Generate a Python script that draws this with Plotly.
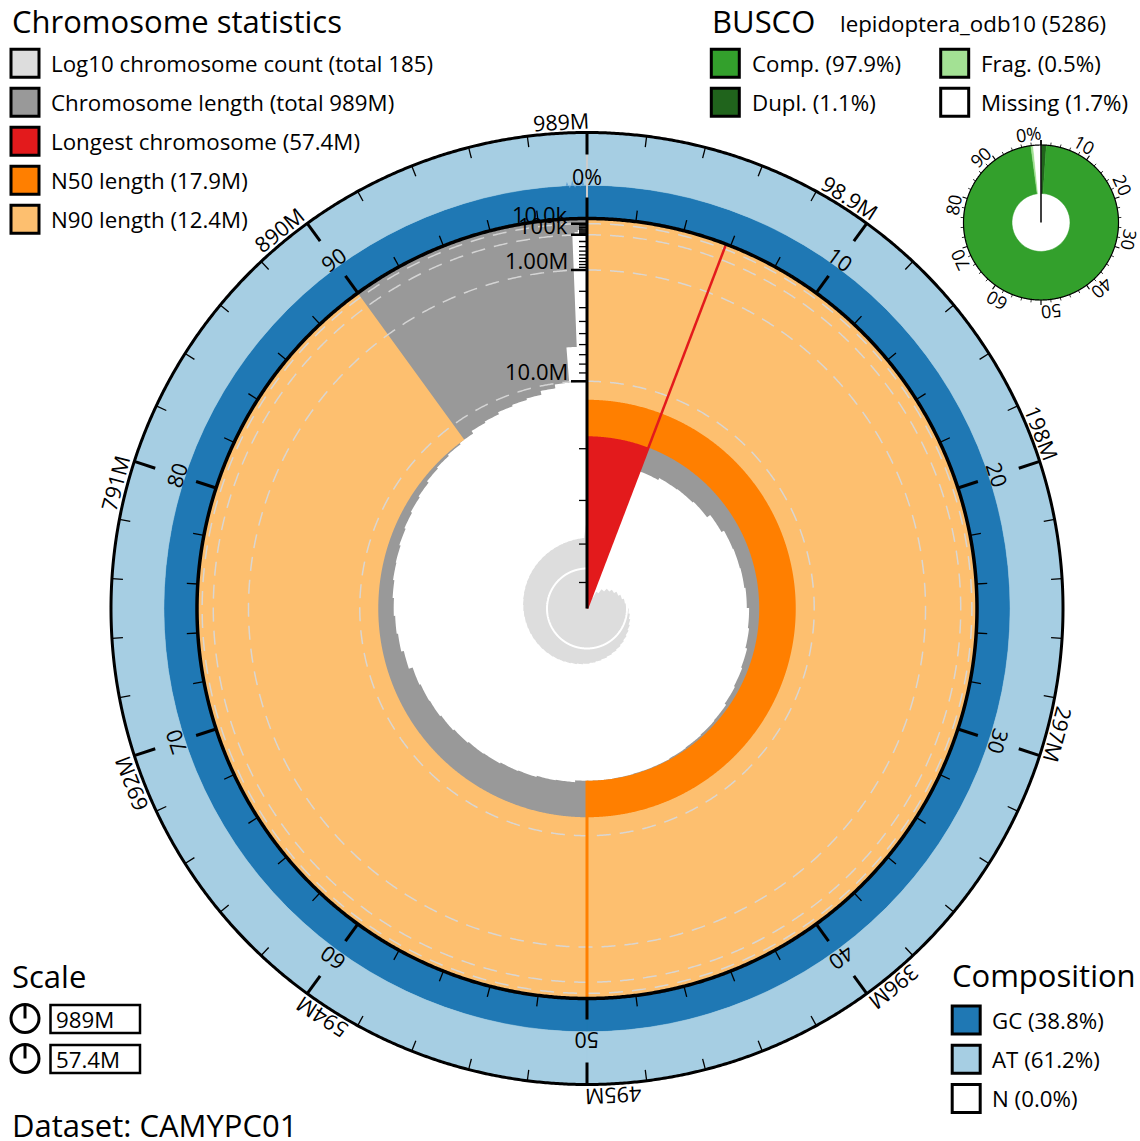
import math
import numpy as np
import plotly.graph_objects as go

W, H = 1140, 1141
FONT = "Open Sans"

# ---------------- data ----------------
CHROM_LENGTHS_MB = [
    57.4, 22.3, 21.9, 21.8, 21.6, 20.9, 20.4, 20.3, 20.2, 20.0,
    19.6, 19.4, 19.1, 18.9, 18.7, 18.4, 18.3, 18.2, 18.1, 18.0,
    18.0, 17.95, 17.9, 17.9, 17.6, 17.5, 17.3, 17.2, 17.0, 16.9,
    16.7, 16.5, 16.3, 16.2, 16.0, 15.4, 15.0, 14.8, 14.6, 14.4,
    14.2, 14.1, 13.9, 13.7, 13.5, 13.3, 13.0, 12.8, 12.6, 12.4,
    12.0, 11.8, 11.5, 11.3, 11.1, 10.6, 10.1, 6.2,
]
SMALL_SCAFFOLD_MB = [0.095, 0.070, 0.050, 0.035, 0.025]
SMALL_SCAFFOLD_N = [10, 20, 40, 40, 17]

TOTAL_COUNT = 185
TOTAL_LENGTH_LABEL = "989M"
LONGEST_MB = 57.4
N50_MB = 17.9
N90_MB = 12.4
GC_PCT = 38.8
AT_PCT = 61.2
N_PCT = 0.0
GC_TAIL_BINS_PCT = [38.8, 43.0, 35.5, 45.0, 36.0, 46.0, 37.0, 43.5, 38.8]

OUTER_TICK_LABELS = ["989M", "98.9M", "198M", "297M", "396M", "495M",
                     "594M", "692M", "791M", "890M"]
INNER_TICK_LABELS = ["0%", "10", "20", "30", "40", "50", "60", "70", "80", "90"]
LENGTH_TICKS_MB = [0.01, 0.1, 1.0, 10.0]
LENGTH_TICK_LABELS = ["10.0k", "100k", "1.00M", "10.0M"]

BUSCO_LINEAGE = "lepidoptera_odb10 (5286)"
BUSCO_COMPLETE = 97.9
BUSCO_DUPLICATED = 1.1
BUSCO_FRAGMENTED = 0.5
BUSCO_MISSING = 1.7
BUSCO_TICK_LABELS = ["0%", "10", "20", "30", "40", "50", "60", "70", "80", "90"]
DATASET = "CAMYPC01"

# ---------------- colours ----------------
C_COUNT = "#dddddd"
C_LEN = "#999999"
C_LONG = "#e31a1c"
C_N50 = "#ff7f00"
C_N90 = "#fdbf6f"
C_GC = "#1f78b4"
C_AT = "#a6cee3"
C_COMP = "#33a02c"
C_DUPL = "#20641c"
C_FRAG = "#a3e194"

# ---------------- geometry (pixels) ----------------
CX, CY = 587.0, 608.5
R = 390.0
R_OUT = 476.0
RING = R_OUT - R
HALF = 500.0
K_COUNT = 40.0
BX, BY = 1041.0, 222.5
BHALF = 90.0
B_IN, B_OUT = 29.0, 77.5

lengths = np.array(CHROM_LENGTHS_MB +
                   [l for l, n in zip(SMALL_SCAFFOLD_MB, SMALL_SCAFFOLD_N) for _ in range(n)])
total = lengths.sum()
maxlen = lengths.max()
cum = np.concatenate([[0.0], np.cumsum(lengths)])
th0 = cum[:-1] / total * 360.0
th1 = cum[1:] / total * 360.0
wid = lengths / total * 360.0


def r_len(L):
    return R * (1.0 - np.sqrt(np.asarray(L, dtype=float) / maxlen))


def arc(r, t0, t1, step=0.5):
    n = max(2, int(math.ceil(abs(t1 - t0) / step)) + 1)
    return [float(r)] * n, list(np.linspace(t0, t1, n))


fig = go.Figure()


def area(rr, tt, color, sub="polar"):
    fig.add_trace(go.Scatterpolar(r=rr, theta=tt, mode="lines", fill="toself",
                                  fillcolor=color, line=dict(width=0, color=color),
                                  subplot=sub, hoverinfo="skip", showlegend=False))


# ---- chromosome length (grey) : one polygon ----
base_len = r_len(lengths)
gr, gt = [], []
for b, a0, a1 in zip(base_len, th0, th1):
    r_, t_ = arc(b, a0, a1)
    gr += r_
    gt += t_
r_, t_ = arc(R, 360, 0)
gr += r_
gt += t_
area(gr, gt, C_LEN)

# ---- log10 count (light grey) : one polygon ----
idx = np.arange(1, len(lengths) + 1)
cr, ct = [0.0], [float(th0[1])]
for n_, a0, a1 in zip(idx[1:], th0[1:], th1[1:]):
    r_, t_ = arc(K_COUNT * math.log10(n_), a0, a1)
    cr += r_
    ct += t_
cr += [0.0]
ct += [360.0]
area(cr, ct, C_COUNT)

# count gridline at 10
arcr, arct = arc(K_COUNT * 1.0, th0[1], 360, 0.25)
fig.add_trace(go.Scatterpolar(r=arcr, theta=arct, mode="lines", line=dict(color="#ffffff", width=2),
                              subplot="polar", hoverinfo="skip", showlegend=False))

# ---- longest ----
lr, lt = [0.0], [0.0]
r_, t_ = arc(R, 0, th1[0], 0.25)
lr += r_ + [0.0]
lt += t_ + [0.0]
area(lr, lt, C_LONG)

# ---- N50 / N90 ----
b50 = float(r_len(N50_MB))
b90 = float(r_len(N90_MB))
for base, t_end, col in [(b50, 180.0, C_N50), (b90, 324.0, C_N90)]:
    r1, t1_ = arc(base, 0, t_end, 0.25)
    r2, t2_ = arc(R, t_end, 0, 0.25)
    area(r1 + r2, t1_ + t2_, col)

# ---- composition ring ----
gc_r = GC_PCT / 100 * RING
at_r = AT_PCT / 100 * RING
fig.add_trace(go.Barpolar(theta=[90, 270], width=[180, 180], base=[R, R], r=[gc_r, gc_r],
                          marker=dict(color=C_GC, line=dict(color=C_GC, width=0.6)),
                          subplot="polar", hoverinfo="skip"))
fig.add_trace(go.Barpolar(theta=[90, 270], width=[180, 180], base=[R + gc_r] * 2, r=[at_r, at_r],
                          marker=dict(color=C_AT, line=dict(color=C_AT, width=0.6)),
                          subplot="polar", hoverinfo="skip"))

# ---- BUSCO ring ----
b_edges = [0, BUSCO_DUPLICATED, BUSCO_COMPLETE, BUSCO_COMPLETE + BUSCO_FRAGMENTED, 100.0]
b_cols = [C_DUPL, C_COMP, C_FRAG, "#ffffff"]
b_th = [(b_edges[i] + b_edges[i + 1]) / 2 * 3.6 for i in range(4)]
b_w = [(b_edges[i + 1] - b_edges[i]) * 3.6 for i in range(4)]
fig.add_trace(go.Barpolar(theta=b_th, width=b_w, base=[B_IN] * 4, r=[B_OUT - B_IN] * 4,
                          marker=dict(color=b_cols, line=dict(color=b_cols, width=0.5)),
                          subplot="polar2", hoverinfo="skip"))


# ---------------- lines (scatterpolar) ----------------
def line(r, th, color, width, dash=None, sub="polar"):
    fig.add_trace(go.Scatterpolar(r=r, theta=th, mode="lines",
                                  line=dict(color=color, width=width, dash=dash),
                                  subplot=sub, hoverinfo="skip", showlegend=False))


def segs(pairs, color, width, sub="polar"):
    rr, tt = [], []
    for (r1, t1), (r2, t2) in pairs:
        rr += [r1, r2, None]
        tt += [t1, t2, None]
    line(rr, tt, color, width, sub=sub)


circ = np.linspace(0, 360, 1441)
# dashed length gridlines
for L in LENGTH_TICKS_MB:
    line(np.full_like(circ, float(r_len(L))), circ, "rgba(215,215,215,0.95)", 1.5, dash="14px,9px")

# GC variation among the small scaffolds at the end
nb = len(GC_TAIL_BINS_PCT)
bw = 0.36
t_start = 360 - nb * bw
sr, st = [], []
for i, g in enumerate(GC_TAIL_BINS_PCT):
    sr += [R + gc_r, R + g / 100 * RING]
    st += [t_start + i * bw, t_start + (i + 0.5) * bw]
sr += [R + gc_r]
st += [360]
area(sr, st, "rgba(95,160,210,0.9)")

# radial marker lines
line([0, R], [th1[0], th1[0]], C_LONG, 2.5)
line([b50, R], [180, 180], C_N50, 3)
# light grey zero line across ring
line([R, R_OUT], [0, 0], "#cccccc", 2)
# radial length axis
line([0, R], [0, 0], "#000000", 3)
maj, mnr = [], []
for dec in [0.01, 0.1, 1.0, 10.0]:
    for m in range(1, 10):
        L = dec * m
        if L > maxlen:
            continue
        rr = float(r_len(L))
        tl = 16 if m == 1 else 8
        p2 = (math.hypot(rr, tl), -math.degrees(math.atan2(tl, rr)))
        (maj if m == 1 else mnr).append(((rr, 0), p2))
segs(maj, "#000000", 2.5)
segs(mnr, "#000000", 1.3)

# ring ticks
o_maj, o_min, i_maj, i_min = [], [], [], []
for k in range(50):
    t = k * 7.2
    if k % 5 == 0:
        o_maj.append(((R_OUT, t), (R_OUT - 22, t)))
        i_maj.append(((R, t), (R + 21, t)))
    else:
        o_min.append(((R_OUT, t), (R_OUT - 11, t)))
        i_min.append(((R, t), (R + 11, t)))
segs(o_maj, "#000000", 3)
segs(i_maj, "#000000", 3)
segs(o_min, "#000000", 1.3)
segs(i_min, "#000000", 1.3)
line(np.full_like(circ, R), circ, "#000000", 3.5)
line(np.full_like(circ, R_OUT), circ, "#000000", 3)

# BUSCO lines
bt_maj, bt_min = [], []
for k in range(50):
    t = k * 7.2
    if k % 5 == 0:
        bt_maj.append(((B_OUT, t), (B_OUT + 5, t)))
    else:
        bt_min.append(((B_OUT, t), (B_OUT + 3, t)))
segs(bt_maj, "#000000", 1.2, sub="polar2")
segs(bt_min, "#000000", 0.8, sub="polar2")
line(np.full_like(circ, B_OUT), circ, "#000000", 1.2, sub="polar2")
line([0, B_OUT + 5], [0, 0], "#000000", 1.5, sub="polar2")

# ---------------- annotations ----------------
CW = {"0": .572, "1": .572, "2": .572, "3": .572, "4": .572, "5": .572, "6": .572,
      "7": .572, "8": .572, "9": .572, "M": .907, ".": .266, "%": .823, "k": .516}


def tw(s, size):
    return sum(CW.get(c, .56) for c in s) * size


def pxy(cx, cy, r, th):
    a = math.radians(th)
    return cx + r * math.sin(a), cy - r * math.cos(a)


anns = []


def ann(x, y, text, size, xanchor="left", angle=0):
    anns.append(dict(x=x / W, y=1 - y / H, xref="paper", yref="paper", text=text,
                     showarrow=False, font=dict(family=FONT, size=size, color="#000000"),
                     xanchor=xanchor, yanchor="middle", textangle=angle))


RING_FS = 21.5
for k, lab in enumerate(OUTER_TICK_LABELS):
    t = k * 36.0
    w = tw(lab, RING_FS)
    tc = t - math.degrees((w / 2 - 2) / 488.0)
    x, y = pxy(CX, CY, 488.0, tc)
    ann(x, y, lab, RING_FS, "center", tc)
for k, lab in enumerate(INNER_TICK_LABELS):
    t = k * 36.0
    x, y = pxy(CX, CY, 432.0, t)
    ann(x, y, lab, RING_FS, "center", t)
for L, lab in zip(LENGTH_TICKS_MB, LENGTH_TICK_LABELS):
    y = CY - float(r_len(L)) - 10
    ann(570, y, lab, 22, "right")
B_FS = 18
for k, lab in enumerate(BUSCO_TICK_LABELS):
    t = k * 36.0
    w = tw(lab, B_FS)
    tc = t - math.degrees((w / 2) / 89.5)
    x, y = pxy(BX, BY, 89.5, tc)
    ann(x, y, lab, B_FS, "center", tc)

shapes = []


def rect(x0, y0, x1, y1, fill, lw=3):
    shapes.append(dict(type="rect", xref="paper", yref="paper", x0=x0 / W, x1=x1 / W,
                       y0=1 - y1 / H, y1=1 - y0 / H, line=dict(color="#000000", width=lw),
                       fillcolor=fill, layer="above"))


def square(cx, cy, fill):
    rect(cx - 14, cy - 14, cx + 14, cy + 14, fill)


TITLE_FS = 31
ITEM_FS = 22.3
# Chromosome statistics legend
ann(10, 21.5, "Chromosome statistics", TITLE_FS)
chrom_items = [(C_COUNT, f"Log10 chromosome count (total {TOTAL_COUNT})"),
               (C_LEN, f"Chromosome length (total {TOTAL_LENGTH_LABEL})"),
               (C_LONG, f"Longest chromosome ({LONGEST_MB}M)"),
               (C_N50, f"N50 length ({N50_MB}M)"),
               (C_N90, f"N90 length ({N90_MB}M)")]
for i, (c, lab) in enumerate(chrom_items):
    cy = 63.3 + 39 * i
    square(25, cy, c)
    ann(49, cy, lab, ITEM_FS)

# BUSCO legend
ann(710, 20.5, "BUSCO", TITLE_FS)
ann(838, 23.5, BUSCO_LINEAGE, ITEM_FS)
busco_items = [(725.3, 63.3, C_COMP, f"Comp. ({BUSCO_COMPLETE}%)"),
               (725.3, 102.3, C_DUPL, f"Dupl. ({BUSCO_DUPLICATED}%)"),
               (954.7, 63.3, C_FRAG, f"Frag. ({BUSCO_FRAGMENTED}%)"),
               (954.7, 102.3, "#ffffff", f"Missing ({BUSCO_MISSING}%)")]
for x, y, c, lab in busco_items:
    square(x, y, c)
    ann(x + 24.5, y, lab, ITEM_FS)

# Scale legend
ann(10, 976.4, "Scale", TITLE_FS)
for cy, lab in [(1018.5, TOTAL_LENGTH_LABEL), (1058.5, f"{LONGEST_MB}M")]:
    shapes.append(dict(type="circle", xref="paper", yref="paper",
                       x0=11 / W, x1=39 / W, y0=1 - (cy + 14) / H, y1=1 - (cy - 14) / H,
                       line=dict(color="#000000", width=3), fillcolor="rgba(0,0,0,0)"))
    shapes.append(dict(type="line", xref="paper", yref="paper",
                       x0=25 / W, x1=25 / W, y0=1 - cy / H, y1=1 - (cy - 14) / H,
                       line=dict(color="#000000", width=3)))
    rect(50.5, cy - 13.5, 140, cy + 14.5, "rgba(0,0,0,0)", 2.5)
    ann(54, cy + 1, lab, ITEM_FS)

ann(10, 1125, f"Dataset: {DATASET}", TITLE_FS)

# Composition legend
ann(950, 975.4, "Composition", TITLE_FS)
comp_items = [(C_GC, f"GC ({GC_PCT}%)"), (C_AT, f"AT ({AT_PCT}%)"), ("#ffffff", f"N ({N_PCT}%)")]
for i, (c, lab) in enumerate(comp_items):
    cy = 1020 + 39.2 * i
    square(966.2, cy, c)
    ann(989.5, cy, lab, ITEM_FS)


def dom(cx, cy, h):
    return dict(x=[(cx - h) / W, (cx + h) / W], y=[(H - cy - h) / H, (H - cy + h) / H])


polar_common = dict(bgcolor="rgba(0,0,0,0)", barmode="overlay", bargap=0, hole=0,
                    angularaxis=dict(rotation=90, direction="clockwise", visible=False),)
fig.update_layout(
    width=W, height=H, margin=dict(l=0, r=0, t=0, b=0, pad=0),
    paper_bgcolor="#ffffff", plot_bgcolor="#ffffff", showlegend=False,
    template="none",
    polar=dict(domain=dom(CX, CY, HALF), radialaxis=dict(range=[0, HALF], visible=False),
               **polar_common),
    polar2=dict(domain=dom(BX, BY, BHALF), radialaxis=dict(range=[0, BHALF], visible=False),
                **polar_common),
    annotations=anns, shapes=shapes,
)
fig.write_html("out.html", config={"displayModeBar": False, "staticPlot": True},
               post_script="document.body.style.margin='0px';document.body.style.overflow='hidden';")
